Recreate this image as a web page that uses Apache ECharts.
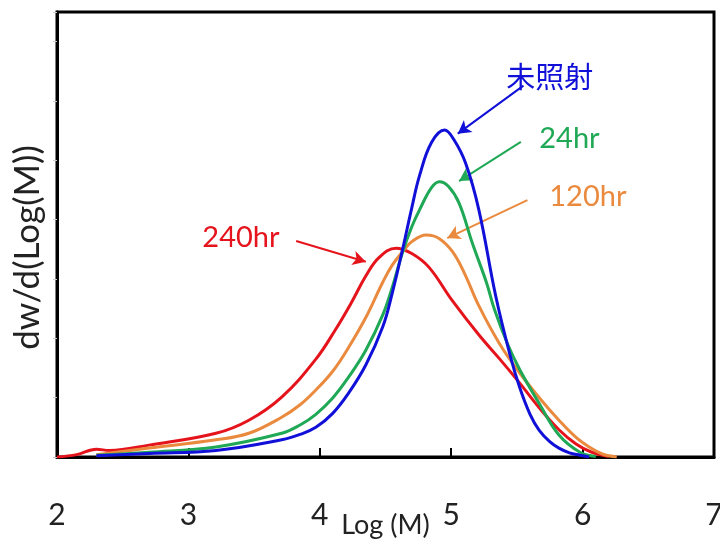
<!DOCTYPE html>
<html>
<head>
<meta charset="utf-8">
<script src="https://cdn.jsdelivr.net/npm/echarts@6/dist/echarts.min.js"></script>
<style>
  html, body { margin: 0; padding: 0; background: #fff; }
  #chart { width: 720px; height: 540px; }
</style>
</head>
<body>
<div id="chart"></div>
<script>
let xTicks = [2, 3, 4, 5, 6, 7];

// [Log(M), dw/d(Log(M))]
let blueData = [
  [2.3, 0.2], [2.7, 0.6], [3.21, 1.1], [3.71, 2.9], [3.85, 3.8], [3.97, 5.0], [4.1, 7.4],
  [4.22, 10.8], [4.35, 15.5], [4.48, 22.0], [4.55, 27.5], [4.63, 35.0], [4.7, 42.0],
  [4.76, 47.5], [4.85, 53.0], [4.95, 55.1], [5.02, 53.5], [5.11, 49.5], [5.21, 41.7],
  [5.34, 27.0], [5.45, 17.0], [5.52, 11.8], [5.6, 7.2], [5.67, 4.5], [5.75, 2.6],
  [5.82, 1.5], [5.9, 0.7], [5.98, 0.3], [6.05, 0]
];
let greenData = [
  [2.3, 0.3], [2.7, 0.8], [3.21, 1.7], [3.71, 4.0], [3.85, 5.4], [3.97, 7.2], [4.1, 10.0],
  [4.22, 13.5], [4.35, 18.0], [4.48, 24.0], [4.55, 28.5], [4.63, 34.5], [4.7, 38.8],
  [4.76, 41.7], [4.85, 45.4], [4.91, 46.4], [4.98, 45.6], [5.06, 42.8], [5.16, 36.1],
  [5.27, 29.3], [5.33, 24.8], [5.43, 19.0], [5.52, 14.8], [5.67, 9.0], [5.82, 3.7],
  [5.98, 0.8], [6.1, 0.1]
];
let orangeData = [
  [2.3, 0.4], [2.7, 1.5], [3.21, 2.9], [3.46, 4.0], [3.71, 6.7], [3.85, 8.8], [3.97, 11.3],
  [4.1, 14.5], [4.22, 18.5], [4.35, 23.5], [4.48, 29.5], [4.55, 32.3], [4.63, 34.6],
  [4.7, 36.3], [4.81, 37.4], [4.91, 36.8], [5.01, 34.6], [5.1, 31.0], [5.21, 25.5],
  [5.37, 19.0], [5.52, 14.2], [5.67, 10.0], [5.82, 6.2], [5.95, 3.3], [6.05, 1.7],
  [6.15, 0.5], [6.26, 0]
];
let redData = [
  [2.0, 0], [2.15, 0.4], [2.3, 1.3], [2.4, 1.1], [2.7, 2.0], [3.21, 4.0],
  [3.46, 6.2], [3.71, 10.1], [3.97, 16.5], [4.12, 21.5], [4.24, 26.0], [4.35, 30.5],
  [4.45, 33.6], [4.58, 35.2], [4.7, 34.3], [4.83, 32.0], [5.01, 26.3], [5.21, 20.6],
  [5.37, 16.5], [5.52, 12.5], [5.67, 8.3], [5.82, 4.6], [5.95, 2.2], [6.07, 0.8], [6.2, 0.1]
];

let seriesNames = ['未照射', '24hr', '120hr', '240hr'];
let seriesColors = ['#1010d8', '#1fa855', '#ea8a3e', '#e5141c'];
let seriesData = [blueData, greenData, orangeData, redData];
// annotation arrows: [from, to] and label positions
let arrowFrom = [[5.55, 62.6], [5.53, 53.1], [5.58, 43.3], [3.82, 36.4]];
let arrowTo = [[5.05, 54.5], [5.06, 46.5], [4.97, 36.9], [4.35, 32.9]];
let labelAt = [[5.75, 63.7], [5.90, 53.6], [6.04, 43.8], [3.40, 37.0]];

let chart = echarts.init(document.getElementById('chart'));

let series = seriesData.map((data, i) => ({
  name: seriesNames[i],
  type: 'line',
  data: data,
  smooth: 0.4,
  showSymbol: false,
  z: 10 - i,
  lineStyle: { color: seriesColors[i], width: 3 },
  itemStyle: { color: seriesColors[i] },
  markLine: {
    silent: true,
    symbol: ['none', 'arrow'],
    symbolSize: [11, 13],
    label: { show: false },
    lineStyle: { color: seriesColors[i], width: 2, type: 'solid' },
    data: [[{ coord: arrowFrom[i] }, { coord: arrowTo[i] }]]
  },
  markPoint: {
    silent: true,
    symbol: 'circle',
    symbolSize: 0,
    label: {
      show: true,
      position: 'inside',
      formatter: seriesNames[i],
      color: seriesColors[i],
      fontSize: 29,
      fontFamily: 'Lato, "Noto Sans CJK JP", sans-serif'
    },
    data: [{ coord: labelAt[i] }]
  }
}));

let option = {
  animation: false,
  backgroundColor: '#fff',
  grid: {
    left: 57,
    right: 6,
    top: 12,
    bottom: 83,
    outerBoundsMode: 'none',
    containLabel: false,
    show: true,
    borderColor: '#000',
    borderWidth: 3
  },
  xAxis: {
    type: 'value',
    min: 2,
    max: 7,
    interval: 1,
    name: 'Log (M)',
    nameLocation: 'middle',
    nameGap: 55,
    nameMoveOverlap: false,
    nameTextStyle: { fontSize: 27, color: '#222', fontFamily: 'Lato, sans-serif', verticalAlign: 'top' },
    axisLine: { show: true, lineStyle: { color: '#000', width: 3 } },
    axisTick: { show: true, inside: true, length: 9, lineStyle: { color: '#000', width: 2 } },
    axisLabel: {
      margin: 43,
      fontSize: 30,
      color: '#222',
      fontFamily: 'Lato, sans-serif',
      formatter: v => xTicks.includes(v) ? String(v) : ''
    },
    splitLine: { show: false }
  },
  yAxis: {
    type: 'value',
    min: 0,
    max: 75,
    interval: 10,
    name: 'dw/d(Log(M))',
    nameLocation: 'middle',
    nameGap: 12,
    nameMoveOverlap: false,
    nameTextStyle: { fontSize: 35, color: '#222', fontFamily: 'Lato, sans-serif', padding: [0, 26, 0, 0] },
    axisLine: { show: true, lineStyle: { color: '#000', width: 3 } },
    axisTick: { show: true, inside: false, length: 4, lineStyle: { color: '#ccc', width: 1 } },
    axisLabel: { show: false },
    splitLine: { show: false }
  },
  series: series
};

chart.setOption(option);
</script>
</body>
</html>
